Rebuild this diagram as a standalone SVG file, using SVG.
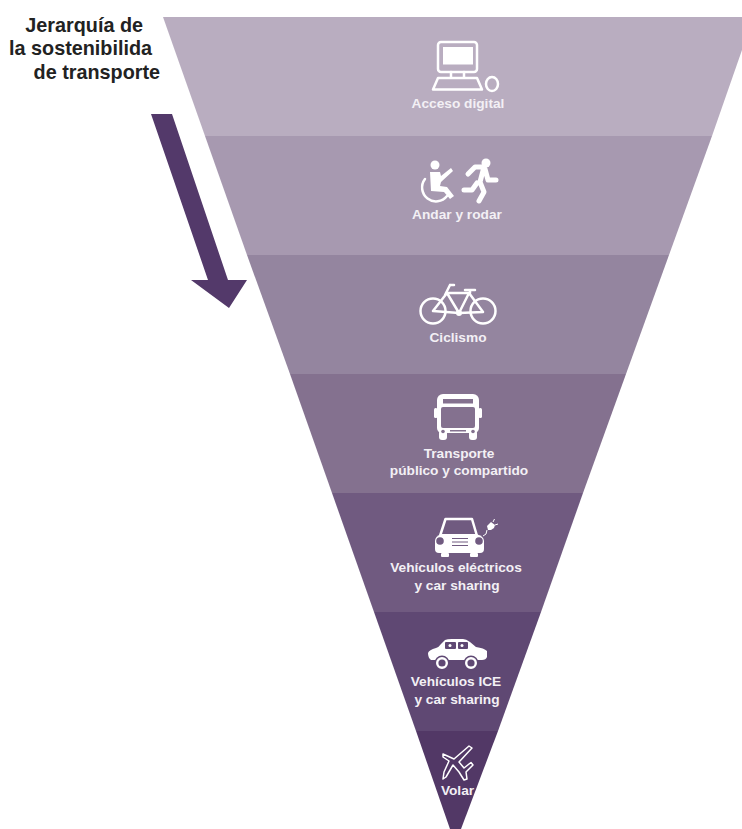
<svg xmlns="http://www.w3.org/2000/svg" width="742" height="829" viewBox="0 0 742 829">
<style>
.lb{font-family:"Liberation Sans",Arial,sans-serif;font-weight:700;font-size:13.7px;fill:#f3f0f5;text-anchor:middle}
.tt{font-family:"Liberation Sans",Arial,sans-serif;font-weight:700;font-size:19.8px;fill:#222;text-anchor:end}
.s{fill:none;stroke:#fff;stroke-width:2.5;stroke-linejoin:round;stroke-linecap:round}
.f{fill:#fff}
</style>
<rect width="742" height="829" fill="#fff"/>
<g id="band-digital"><polygon points="163,17 742,17 742,50 712,136 205,136" fill="#b9adc0"/>
<g><rect x="438" y="42" width="39" height="30" rx="3" class="s"/><rect x="443" y="47" width="30" height="17.500" class="f"/><path class="s" d="M451 72v5M464 72v5"/><path class="s" d="M438 78H477L482 89.500H433Z"/><ellipse cx="492" cy="84" rx="6" ry="7" class="s"/></g>
<text x="458" y="108" class="lb">Acceso digital</text></g>
<g id="band-andar"><polygon points="205,136 712,136 669,255 247,255" fill="#a799b0"/>
<g><circle cx="435" cy="165" r="4.500" class="f"/><path d="M430 172L440 172L441 176L451 168L453 171L441 182L440 186L447 187L454 196L450 199L444 192L431 191Z" class="f"/><path class="s" d="M425 179A13 13 0 1 0 447 196"/><circle cx="486" cy="163" r="4.500" class="f"/><path class="s" style="stroke-width:5" d="M468 174L475 167H484L480 182L484 192L479 201M477 183L472 190H464M485 169L488 180H496"/></g>
<text x="457" y="219" class="lb">Andar y rodar</text></g>
<g id="band-ciclismo"><polygon points="247,255 669,255 626,374 290,374" fill="#94859f"/>
<g class="s" style="stroke-width:2.500"><circle cx="433" cy="311" r="12.500"/><circle cx="483" cy="311" r="12.500"/><path d="M433 311L447 293H469L459 313ZM447 293L459 313L483 312L469 293M450 285L445 295M450 285H454M465 290H475M470 290V293"/></g><circle cx="459" cy="313" r="3" class="f"/>
<text x="458" y="342" class="lb">Ciclismo</text></g>
<g id="band-transporte"><polygon points="290,374 626,374 583,493 332,493" fill="#84718f"/>
<g><path d="M443 394h30a6 6 0 0 1 6 6v28a5 5 0 0 1-5 5h-32a5 5 0 0 1-5-5v-28a6 6 0 0 1 6-6Z" class="f"/><rect x="441" y="407" width="34" height="21" rx="2" fill="#84718f"/><rect x="443" y="399" width="30" height="4.500" fill="#84718f"/><rect x="439" y="430" width="8" height="10" rx="3" class="f"/><rect x="469" y="430" width="8" height="10" rx="3" class="f"/><circle cx="443" cy="431.500" r="1.800" fill="#84718f"/><circle cx="473" cy="431.500" r="1.800" fill="#84718f"/><rect x="434" y="408" width="3.500" height="10" rx="1.500" class="f"/><rect x="478.500" y="408" width="3.500" height="10" rx="1.500" class="f"/><rect x="450" y="430" width="16" height="1.500" fill="#84718f"/></g>
<text x="459" y="458" class="lb">Transporte</text><text x="459" y="475" class="lb">público y compartido</text></g>
<g id="band-electricos"><polygon points="332,493 583,493 541,612 374,612" fill="#705a80"/>
<g><path class="s" d="M440 536L445.500 519H472L477 536"/><path d="M442 534H476Q484 536 484 541V549Q484 553 480 553H439Q435 553 435 549V541Q435 536 442 534Z" class="f"/><rect x="441" y="553" width="8" height="4" rx="1" class="f"/><rect x="470" y="553" width="8" height="4" rx="1" class="f"/><circle cx="440" cy="541" r="3.800" fill="#705a80"/><circle cx="479" cy="541" r="3.800" fill="#705a80"/><path d="M452 538.500h16M452 542h16M452 545.500h16" stroke="#705a80" fill="none"/><path d="M483 536Q487 535 487 530" fill="none" stroke="#fff"/><path d="M487 526l4-4 4 3-1 3-3 2h-3Z" class="f"/><path d="M493 522l1.500-3M495 525l3-1" stroke="#fff" fill="none"/></g>
<text x="456" y="572" class="lb">Vehículos eléctricos</text><text x="457" y="590" class="lb">y car sharing</text></g>
<g id="band-ice"><polygon points="374,612 541,612 498,731 416,731" fill="#5f4873"/>
<g><path d="M431 660Q428 658 428 653Q429 650 436 648Q439 647 441 644L445 640Q447 639 452 639H463Q466 639 470 642L476 647Q484 648 487 651V657Q486 660 482 660Z" class="f"/><rect x="445" y="642" width="11" height="7" rx="1" fill="#5f4873"/><rect x="458" y="642" width="10" height="7" rx="1" fill="#5f4873"/><circle cx="450" cy="645.500" r="1.500" class="f"/><circle cx="462" cy="645.500" r="1.500" class="f"/><circle cx="442" cy="663" r="7.500" fill="#5f4873"/><circle cx="471" cy="663" r="7.500" fill="#5f4873"/><circle cx="442" cy="663" r="4.800" fill="none" stroke="#fff" stroke-width="2.400"/><circle cx="471" cy="663" r="4.800" fill="none" stroke="#fff" stroke-width="2.400"/></g>
<text x="456" y="686" class="lb">Vehículos ICE</text><text x="457" y="704" class="lb">y car sharing</text></g>
<g id="band-volar"><polygon points="416,731 498,731 461,829 450,829" fill="#523866"/>
<path class="s" style="stroke-width:1.500" d="M443 754L454 759L469 746L472 748L459 762L464 768L471 762.500L473 765L466 772L467 779L464 780L459 772L453 765L446 777L443 779L444 772L449 761L443 757Z"/>
<text x="457.500" y="795" class="lb">Volar</text></g>
<g id="connectors"><polygon points="151,114 172,114 228,280 247,280 229,308 191,280 208,280" fill="#53396a"/></g>
<g id="title"><text x="143" y="32" class="tt">Jerarquía de</text><text x="152" y="55" class="tt">la sostenibilida</text><text x="160" y="79" class="tt">de transporte</text></g>
</svg>
